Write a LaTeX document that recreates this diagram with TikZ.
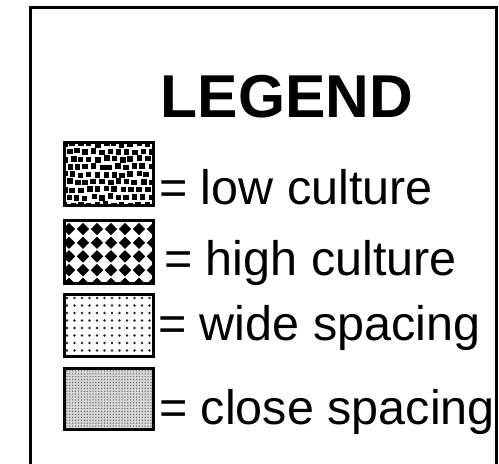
\documentclass[tikz,border=0pt]{standalone}
\usepackage{fontspec}
\setmainfont{Liberation Sans}
\begin{document}
\begin{tikzpicture}[x=1pt,y=-1pt,
  swatch/.style={draw=black,line width=3pt},
  frame/.style={draw=black,line width=3pt},
  lbl/.style={anchor=base west,inner sep=0pt,font=\fontsize{48.5}{50}\selectfont},
  title/.style={anchor=base,inner sep=0pt,font=\fontsize{60.5}{62}\selectfont\bfseries}]
\useasboundingbox (0,0) rectangle (499,464);
\fill[white] (0,0) rectangle (499,464);
% frame
\draw[frame] (30,464) -- (30,7) -- (496,7) -- (496,464);
% title
\node[title] (title) at (287,117) {LEGEND};
% swatch 1: low culture (scattered squares)
\pgfmathsetseed{5}
\begin{scope}
  \clip (63,141) rectangle (152,204);
  \foreach \r in {0,...,8}{
    \foreach \c in {0,...,11}{
      \pgfmathsetmacro\jx{65+\c*8.2+mod(\r,2)*4.1+rand*1.2}
      \pgfmathsetmacro\jy{144+\r*7.6+rand*1.2}
      \fill[black] (\jx-2.7,\jy-2.7) rectangle (\jx+2.7,\jy+2.7);
    }
  }
\end{scope}
\node[swatch,minimum width=89pt,minimum height=63pt,inner sep=0pt,anchor=north west] (s1) at (63,141) {};
\node[lbl] (t1) at (159,204) {= low culture};
% swatch 2: high culture (diamonds)
\begin{scope}
  \clip (63,219) rectangle (152,282);
  \foreach \r in {0,...,4}{
    \foreach \c in {0,...,6}{
      \pgfmathsetmacro\cx{69+\c*14}
      \pgfmathsetmacro\cy{229+\r*13.7}
      \fill[black] (\cx,\cy-6.2) -- (\cx+6.2,\cy) -- (\cx,\cy+6.2) -- (\cx-6.2,\cy) -- cycle;
    }
  }
\end{scope}
\node[swatch,minimum width=89pt,minimum height=63pt,inner sep=0pt,anchor=north west] (s2) at (63,219) {};
\node[lbl] (t2) at (164,275) {= high culture};
% swatch 3: wide spacing
\begin{scope}
  \clip (63,293) rectangle (152,355);
  \foreach \r in {0,...,9}{
    \foreach \c in {0,...,12}{
      \fill[black!85] (67+\c*7.5,298+\r*7.5) circle (1.3);
    }
  }
\end{scope}
\node[swatch,minimum width=89pt,minimum height=62pt,inner sep=0pt,anchor=north west] (s3) at (63,293) {};
\node[lbl] (t3) at (158,340) {= wide spacing};
% swatch 4: close spacing
\begin{scope}
  \clip (63,367) rectangle (152,428);
  \fill[black!15] (63,367) rectangle (152,428);
  \foreach \r in {0,...,21}{
    \foreach \c in {0,...,31}{
      \fill[black!60] (64+\c*2.9,368+\r*2.9) circle (0.75);
    }
  }
\end{scope}
\node[swatch,minimum width=89pt,minimum height=61pt,inner sep=0pt,anchor=north west] (s4) at (63,367) {};
\node[lbl] (t4) at (159,424) {= close spacing};
\end{tikzpicture}
\end{document}
